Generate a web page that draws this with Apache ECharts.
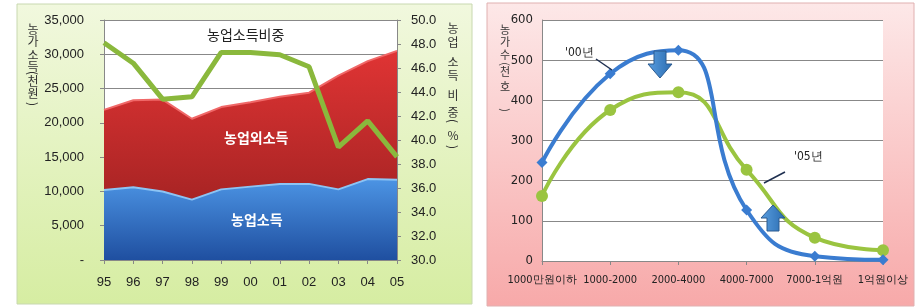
<!DOCTYPE html>
<html><head><meta charset="utf-8">
<script src="https://cdn.jsdelivr.net/npm/echarts@6/dist/echarts.min.js"></script>
<style>html,body{margin:0;padding:0;background:#fff}#c{width:920px;height:307px}</style>
</head><body><div id="c"></div>
<script>
// Left chart data
const years = ['95','96','97','98','99','00','01','02','03','04','05'];
const farmIncome = [10200,10600,10000,8800,10300,10700,11100,11100,10300,11800,11700];
const nonFarmIncome = [11700,12700,13400,11800,12000,12300,12700,13300,16600,17200,18800];
const farmShare = [48.1,46.4,43.4,43.6,47.3,47.3,47.1,46.1,39.4,41.6,38.6];
// Right chart data
const incomeBands = ['1000만원이하','1000-2000','2000-4000','4000-7000','7000-1억원','1억원이상'];
const households00 = [245,466,525,127,12,3];
const households05 = [162,376,420,227,58,27];

const F = 'Liberation Sans, Arial, sans-serif';
const FC = 'DejaVu Sans Condensed, Liberation Sans, sans-serif';
const K = 'Noto Sans CJK KR, sans-serif';
const chart = echarts.init(document.getElementById('c'));

function vtext(str, x, ys, size){
  return str.split('').map((ch,i)=>{
    const paren = ch==='('||ch===')';
    return {type:'text',x:x,y:ys[i],rotation:paren?-Math.PI/2:0,
      style:{text:ch,font:size+'px '+K,fill:'#333',align:'center',verticalAlign:'middle'}, z:10};
  });
}

chart.setOption({
  animation:false,
  graphic:[
    {type:'rect',shape:{x:17,y:4,width:455,height:300},
     style:{fill:new echarts.graphic.LinearGradient(0,0,0,1,[{offset:0,color:'#f1f8de'},{offset:1,color:'#d6eda2'}]),stroke:'#c8d8b0'},z:-10},
    {type:'rect',shape:{x:487,y:3,width:427,height:303},
     style:{fill:new echarts.graphic.LinearGradient(0,0,0,1,[{offset:0,color:'#fde8e8'},{offset:1,color:'#f7a9a9'}]),stroke:'#e0b0b0'},z:-10},
    ...vtext('농가소득(천원)',33,[29,41,55,66,73,81,93,104],12),
    ...vtext('농업소득비중(%)',453,[28,42,62,75,95,112,121,135,147],12),
    ...vtext('농가수(천호)',505,[30,42,55,64,72,87,110],11),
    {type:'text',left:207,top:28,style:{text:'농업소득비중',font:'14px '+K,fill:'#222'},z:10},
    {type:'text',left:224,top:131,style:{text:'농업외소득',font:'bold 14px '+K,fill:'#fff'},z:10},
    {type:'text',left:231,top:213,style:{text:'농업소득',font:'bold 14px '+K,fill:'#fff'},z:10},
    {type:'text',left:565,top:47,style:{text:"'00년",font:'12px '+FC,fill:'#222'},z:10},
    {type:'line',shape:{x1:596,y1:59,x2:612,y2:70},style:{stroke:'#1f3050',lineWidth:1.5},z:10},
    {type:'text',left:794,top:151,style:{text:"'05년",font:'12px '+FC,fill:'#222'},z:10},
    {type:'line',shape:{x1:785,y1:172,x2:764,y2:183},style:{stroke:'#1f3050',lineWidth:1.5},z:10},
    {type:'polygon',shape:{points:[[654,51],[666,51],[666,64],[672,64],[660,78],[648,64],[654,64]]},
     style:{fill:new echarts.graphic.LinearGradient(0,0,1,0,[{offset:0,color:'#5a9ee0'},{offset:1,color:'#2a6cb0'}]),stroke:'#2a5a90'},z:10},
    {type:'polygon',shape:{points:[[767,231],[779,231],[779,218],[785,218],[773,205],[761,218],[767,218]]},
     style:{fill:new echarts.graphic.LinearGradient(0,0,1,0,[{offset:0,color:'#5a9ee0'},{offset:1,color:'#2a6cb0'}]),stroke:'#2a5a90'},z:10}
  ],
  grid:[
    {left:104,top:20,width:293,height:240,show:true,backgroundColor:'#fff',borderWidth:0},
    {left:542,top:20,width:341,height:241,show:true,backgroundColor:'#fff',borderWidth:0}
  ],
  xAxis:[
    {type:'category',gridIndex:0,data:years,boundaryGap:false,
     axisLine:{lineStyle:{color:'#888'}},axisTick:{show:true,length:4,lineStyle:{color:'#888'}},
     axisLabel:{color:'#222',fontFamily:F,fontSize:13,margin:16}},
    {type:'category',gridIndex:1,data:incomeBands,boundaryGap:false,
     axisLine:{lineStyle:{color:'#888'}},axisTick:{show:true,length:4,lineStyle:{color:'#888'}},
     axisLabel:{color:'#222',fontFamily:FC,fontSize:11,margin:14,interval:0}}
  ],
  yAxis:[
    {type:'value',gridIndex:0,min:0,max:35000,interval:5000,
     axisLine:{show:true,lineStyle:{color:'#888'}},axisTick:{show:true,inside:false,length:4,lineStyle:{color:'#888'}},
     splitLine:{lineStyle:{color:'#888',width:1}},
     axisLabel:{color:'#222',fontFamily:F,fontSize:13,margin:20,
       formatter:v=>v===0?'-':v.toLocaleString('en-US')}},
    {type:'value',gridIndex:0,min:30,max:50,interval:2,position:'right',
     axisLine:{show:true,lineStyle:{color:'#888'}},axisTick:{show:true,length:4,lineStyle:{color:'#888'}},
     splitLine:{show:false},
     axisLabel:{color:'#222',fontFamily:F,fontSize:13,margin:14,formatter:v=>v.toFixed(1)}},
    {type:'value',gridIndex:1,min:0,max:600,interval:100,
     axisLine:{show:true,lineStyle:{color:'#888'}},axisTick:{show:false},
     splitLine:{lineStyle:{color:'#888',width:1}},
     axisLabel:{color:'#222',fontFamily:FC,fontSize:13,margin:9}}
  ],
  series:[
    {type:'line',name:'농업소득',xAxisIndex:0,yAxisIndex:0,stack:'inc',data:farmIncome,symbol:'none',
     lineStyle:{color:'#8cc4f4',width:2},
     areaStyle:{opacity:1,color:new echarts.graphic.LinearGradient(0,0,0,1,[{offset:0,color:'#4c94e4'},{offset:1,color:'#1f4fa0'}])},z:2},
    {type:'line',name:'농업외소득',xAxisIndex:0,yAxisIndex:0,stack:'inc',data:nonFarmIncome,symbol:'none',
     lineStyle:{color:'#f06868',width:2},
     areaStyle:{opacity:1,color:new echarts.graphic.LinearGradient(0,0,0,1,[{offset:0,color:'#e03434'},{offset:1,color:'#a82424'}])},z:1},
    {type:'line',name:'농업소득비중',xAxisIndex:0,yAxisIndex:1,data:farmShare,symbol:'none',
     lineStyle:{color:'#8ab83c',width:5},z:5},
    {type:'line',name:"'00년",xAxisIndex:1,yAxisIndex:2,data:households00,smooth:0.5,
     symbol:'diamond',symbolSize:11,itemStyle:{color:'#3a7cd0'},lineStyle:{color:'#3a7cd0',width:4},z:4},
    {type:'line',name:"'05년",xAxisIndex:1,yAxisIndex:2,data:households05,smooth:0.5,
     symbol:'circle',symbolSize:12,itemStyle:{color:'#9ac440'},lineStyle:{color:'#9ac440',width:4},z:3}
  ]
});
</script></body></html>
